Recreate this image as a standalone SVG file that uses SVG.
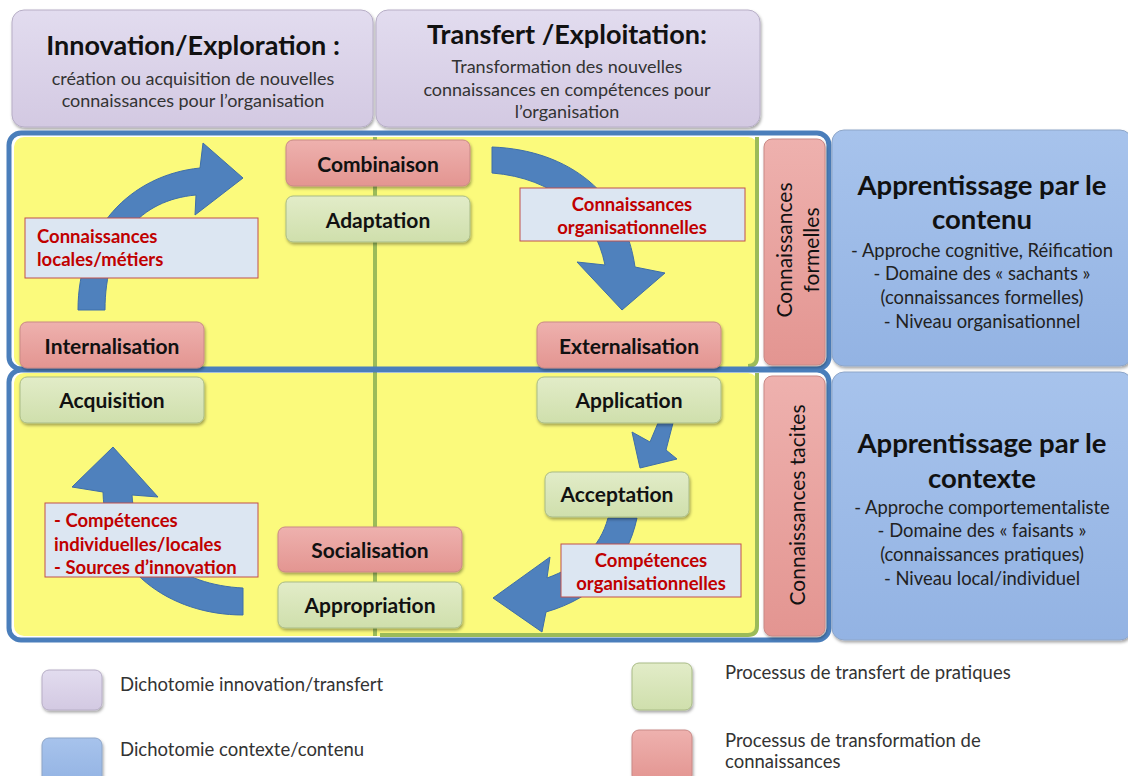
<svg xmlns="http://www.w3.org/2000/svg" width="1128" height="776" viewBox="0 0 1128 776">
<defs>
<linearGradient id="gPurple" x1="0" y1="0" x2="0" y2="1"><stop offset="0" stop-color="#e2dcef"/><stop offset="1" stop-color="#d3c9e2"/></linearGradient>
<linearGradient id="gBlue" x1="0" y1="0" x2="0" y2="1"><stop offset="0" stop-color="#a7c3ec"/><stop offset="1" stop-color="#93b3e3"/></linearGradient>
<linearGradient id="gGreen" x1="0" y1="0" x2="0" y2="1"><stop offset="0" stop-color="#e2ecc8"/><stop offset="1" stop-color="#cfdfac"/></linearGradient>
<linearGradient id="gPink" x1="0" y1="0" x2="0" y2="1"><stop offset="0" stop-color="#eeb1ae"/><stop offset="1" stop-color="#e39591"/></linearGradient>
<filter id="sh" x="-10%" y="-10%" width="130%" height="140%"><feDropShadow dx="1" dy="2" stdDeviation="1.5" flood-color="#000" flood-opacity="0.35"/></filter>
<style>
text{font-family:Lato,"Liberation Sans",sans-serif;}
.purple{fill:url(#gPurple);stroke:#b7aec6;stroke-width:1;filter:url(#sh);}
.bluebox{fill:url(#gBlue);stroke:#8ea6c8;stroke-width:1;filter:url(#sh);}
.green{fill:url(#gGreen);stroke:#a9bb86;stroke-width:1;filter:url(#sh);}
.pink{fill:url(#gPink);stroke:#c98986;stroke-width:1;filter:url(#sh);}
.node{font-size:21px;font-weight:bold;fill:#111;text-anchor:middle;}
.title{font-size:27px;font-weight:bold;fill:#111;text-anchor:middle;}
.sub{font-size:18px;fill:#333;text-anchor:middle;}
.lbl{fill:#dce6f2;stroke:#c0504d;stroke-width:1;}
.red{font-size:18.5px;font-weight:bold;fill:#c00000;}
.arrow{fill:#4f81bd;stroke:#3e6ea8;stroke-width:1;}
.leg{font-size:18.5px;fill:#333;}
.side{font-size:21px;fill:#111;text-anchor:middle;}
.btitle{font-size:27.5px;font-weight:bold;fill:#111;text-anchor:middle;}
.bsub{font-size:18.4px;fill:#222;text-anchor:middle;}
</style>
</defs>
<rect width="1128" height="776" fill="#fff"/>

<!-- top headers -->
<g id="innovation">
<rect class="purple" x="12" y="10" width="361" height="117" rx="12"/>
<text class="title" x="193" y="55">Innovation/Exploration :</text>
<text class="sub" x="193" y="85">création ou acquisition de nouvelles</text>
<text class="sub" x="193" y="107">connaissances pour l’organisation</text>
</g>
<g id="transfert">
<rect class="purple" x="376" y="10" width="384" height="117" rx="12"/>
<text class="title" x="567" y="44">Transfert /Exploitation:</text>
<text class="sub" x="567" y="73">Transformation des nouvelles</text>
<text class="sub" x="567" y="96">connaissances en compétences pour</text>
<text class="sub" x="567" y="118">l’organisation</text>
</g>

<!-- panels -->
<g id="panels">
<rect x="14" y="137" width="744" height="230" rx="10" fill="#fbfa7c"/>
<rect x="14" y="373" width="744" height="263" rx="10" fill="#fbfa7c"/>
<line x1="375" y1="137" x2="375" y2="636" stroke="#9bbb59" stroke-width="4"/>
<path d="M757 137 V357 Q757 366 748 366" fill="none" stroke="#9bbb59" stroke-width="4"/>
<path d="M757 373 V626 Q757 635 748 635 H380" fill="none" stroke="#9bbb59" stroke-width="4"/>
<rect x="9" y="133" width="820" height="236" rx="12" fill="none" stroke="#4a7ebb" stroke-width="5"/>
<rect x="9" y="370" width="820" height="270" rx="12" fill="none" stroke="#4a7ebb" stroke-width="5"/>
</g>

<g id="formelles">
<rect class="pink" x="764" y="139" width="61" height="226" rx="8"/>
<text class="side" transform="translate(792 250) rotate(-90)">Connaissances</text>
<text class="side" transform="translate(819 250) rotate(-90)">formelles</text>
</g>
<g id="tacites">
<rect class="pink" x="764" y="376" width="61" height="260" rx="8"/>
<text class="side" transform="translate(805 505) rotate(-90)">Connaissances  tacites</text>
</g>

<g id="contenu">
<rect class="bluebox" x="832" y="130" width="300" height="236" rx="12"/>
<text class="btitle" x="982" y="195">Apprentissage par le</text>
<text class="btitle" x="982" y="229">contenu</text>
<text class="bsub" x="982" y="257">- Approche cognitive, Réification</text>
<text class="bsub" x="982" y="280">- Domaine des « sachants »</text>
<text class="bsub" x="982" y="304">(connaissances formelles)</text>
<text class="bsub" x="982" y="328">- Niveau organisationnel</text>
</g>
<g id="contexte">
<rect class="bluebox" x="832" y="372" width="300" height="268" rx="12"/>
<text class="btitle" x="982" y="453">Apprentissage par le</text>
<text class="btitle" x="982" y="488">contexte</text>
<text class="bsub" x="982" y="514">- Approche comportementaliste</text>
<text class="bsub" x="982" y="537">- Domaine des « faisants »</text>
<text class="bsub" x="982" y="561">(connaissances pratiques)</text>
<text class="bsub" x="982" y="585">- Niveau local/individuel</text>
</g>

<!-- connectors -->
<g id="connectors">
<path class="arrow" d="M78 310 C78 230 130 175 200 168 L203 143 L243 178 L195 215 L196 195 C140 200 105 240 105 310 Z"/>
<path class="arrow" d="M492 147 C570 150 625 195 635 267 L665 273 L622 310 L577 262 L605 265 C595 215 555 178 492 173 Z"/>
<path class="arrow" d="M658 423 L673 423 L666 450 L677 459 L640 468 L632 432 L650 442 Z"/>
<path class="arrow" d="M608 518 L637 518 C627 565 595 598 546 612 L542 632 L493 598 L550 557 L547 578 C578 567 600 548 608 518 Z"/>
<path class="arrow" d="M243 588 C180 585 135 550 132 495 L158 497 L113 447 L72 487 L103 492 C105 570 170 615 243 615 Z"/>
</g>

<g id="combinaison"><rect class="pink" x="286" y="140" width="184" height="46" rx="7"/><text class="node" x="378" y="172">Combinaison</text></g>
<g id="adaptation"><rect class="green" x="286" y="196" width="184" height="46" rx="7"/><text class="node" x="378" y="228">Adaptation</text></g>
<g id="internalisation"><rect class="pink" x="20" y="322" width="184" height="46" rx="7"/><text class="node" x="112" y="354">Internalisation</text></g>
<g id="externalisation"><rect class="pink" x="537" y="322" width="184" height="46" rx="7"/><text class="node" x="629" y="354">Externalisation</text></g>
<g id="acquisition"><rect class="green" x="20" y="377" width="184" height="46" rx="7"/><text class="node" x="112" y="408">Acquisition</text></g>
<g id="application"><rect class="green" x="537" y="377" width="184" height="46" rx="7"/><text class="node" x="629" y="408">Application</text></g>
<g id="acceptation"><rect class="green" x="545" y="472" width="144" height="45" rx="7"/><text class="node" x="617" y="502">Acceptation</text></g>
<g id="socialisation"><rect class="pink" x="278" y="527" width="184" height="45" rx="7"/><text class="node" x="370" y="558">Socialisation</text></g>
<g id="appropriation"><rect class="green" x="278" y="582" width="184" height="46" rx="7"/><text class="node" x="370" y="613">Appropriation</text></g>

<g id="lbl-locales">
<rect class="lbl" x="25" y="218" width="233" height="60"/>
<text class="red" x="37" y="243">Connaissances</text>
<text class="red" x="37" y="266">locales/métiers</text>
</g>
<g id="lbl-orga">
<rect class="lbl" x="520" y="188" width="225" height="53"/>
<text class="red" x="632" y="211" text-anchor="middle">Connaissances</text>
<text class="red" x="632" y="234" text-anchor="middle">organisationnelles</text>
</g>
<g id="lbl-comp-indiv">
<rect class="lbl" x="45" y="503" width="213" height="74"/>
<text class="red" x="54" y="527">- Compétences</text>
<text class="red" x="54" y="551">individuelles/locales</text>
<text class="red" x="54" y="574">- Sources d’innovation</text>
</g>
<g id="lbl-comp-orga">
<rect class="lbl" x="561" y="544" width="180" height="53"/>
<text class="red" x="651" y="567" text-anchor="middle">Compétences</text>
<text class="red" x="651" y="590" text-anchor="middle">organisationnelles</text>
</g>

<!-- legend -->
<g id="legend-purple"><rect class="purple" x="42" y="670" width="60" height="40" rx="7"/><text class="leg" x="120" y="691">Dichotomie innovation/transfert</text></g>
<g id="legend-blue"><rect class="bluebox" x="42" y="738" width="60" height="46" rx="7"/><text class="leg" x="120" y="756">Dichotomie contexte/contenu</text></g>
<g id="legend-green"><rect class="green" x="632" y="663" width="60" height="47" rx="7"/><text class="leg" x="725" y="679">Processus de transfert de pratiques</text></g>
<g id="legend-pink"><rect class="pink" x="632" y="730" width="60" height="52" rx="7"/><text class="leg" x="725" y="747">Processus de transformation de</text><text class="leg" x="725" y="768">connaissances</text></g>
</svg>
